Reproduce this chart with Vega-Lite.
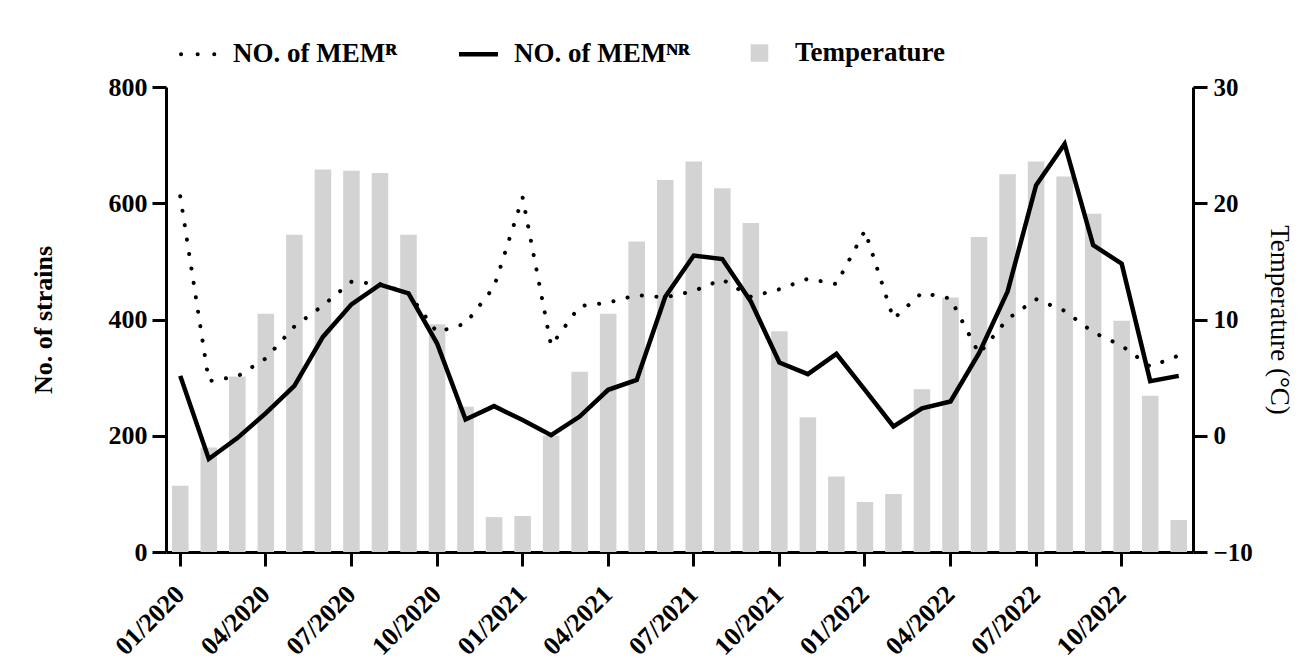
{
  "$schema": "https://vega.github.io/schema/vega-lite/v6.json",
  "width": 1027,
  "height": 465,
  "autosize": {"type": "none"},
  "padding": {"left": 166, "top": 87, "right": 115, "bottom": 116},
  "background": "white",
  "config": {
    "view": {"stroke": null},
    "font": "Liberation Serif",
    "axis": {
      "grid": false,
      "domainColor": "#000000",
      "domainWidth": 3,
      "tickColor": "#000000",
      "tickWidth": 3,
      "tickSize": 14,
      "labelColor": "#000000",
      "labelFont": "Liberation Serif",
      "labelFontSize": 25,
      "labelFontWeight": "bold",
      "titleColor": "#000000",
      "titleFont": "Liberation Serif"
    }
  },
  "data": {
    "values": [
      {"month": "01/2020", "temp": -4.3, "r": 612, "nr": 303},
      {"month": "02/2020", "temp": -1.0, "r": 294, "nr": 160},
      {"month": "03/2020", "temp": 5.1, "r": 302, "nr": 196},
      {"month": "04/2020", "temp": 10.5, "r": 333, "nr": 239},
      {"month": "05/2020", "temp": 17.3, "r": 388, "nr": 286},
      {"month": "06/2020", "temp": 22.9, "r": 424, "nr": 370},
      {"month": "07/2020", "temp": 22.8, "r": 465, "nr": 426},
      {"month": "08/2020", "temp": 22.6, "r": 461, "nr": 460},
      {"month": "09/2020", "temp": 17.3, "r": 445, "nr": 445},
      {"month": "10/2020", "temp": 9.6, "r": 378, "nr": 359},
      {"month": "11/2020", "temp": 2.5, "r": 393, "nr": 228},
      {"month": "12/2020", "temp": -7.0, "r": 456, "nr": 251},
      {"month": "01/2021", "temp": -6.9, "r": 610, "nr": 227},
      {"month": "02/2021", "temp": 0.0, "r": 355, "nr": 201},
      {"month": "03/2021", "temp": 5.5, "r": 423, "nr": 233},
      {"month": "04/2021", "temp": 10.5, "r": 429, "nr": 279},
      {"month": "05/2021", "temp": 16.7, "r": 442, "nr": 296},
      {"month": "06/2021", "temp": 22.0, "r": 438, "nr": 439},
      {"month": "07/2021", "temp": 23.6, "r": 449, "nr": 510},
      {"month": "08/2021", "temp": 21.3, "r": 469, "nr": 504},
      {"month": "09/2021", "temp": 18.3, "r": 439, "nr": 431},
      {"month": "10/2021", "temp": 9.0, "r": 452, "nr": 326},
      {"month": "11/2021", "temp": 1.6, "r": 470, "nr": 306},
      {"month": "12/2021", "temp": -3.5, "r": 461, "nr": 341},
      {"month": "01/2022", "temp": -5.7, "r": 553, "nr": 279},
      {"month": "02/2022", "temp": -5.0, "r": 401, "nr": 216},
      {"month": "03/2022", "temp": 4.0, "r": 446, "nr": 247},
      {"month": "04/2022", "temp": 11.9, "r": 436, "nr": 259},
      {"month": "05/2022", "temp": 17.1, "r": 341, "nr": 342},
      {"month": "06/2022", "temp": 22.5, "r": 401, "nr": 448},
      {"month": "07/2022", "temp": 23.6, "r": 435, "nr": 631},
      {"month": "08/2022", "temp": 22.3, "r": 415, "nr": 702},
      {"month": "09/2022", "temp": 19.1, "r": 378, "nr": 528},
      {"month": "10/2022", "temp": 9.9, "r": 355, "nr": 496},
      {"month": "11/2022", "temp": 3.45, "r": 319, "nr": 294},
      {"month": "12/2022", "temp": -7.25, "r": 338, "nr": 303}
    ]
  },
  "encoding": {
    "x": {
      "field": "month",
      "type": "ordinal",
      "sort": null,
      "scale": {"paddingInner": 0.42, "paddingOuter": 0.21},
      "axis": {
        "title": null,
        "values": ["01/2020", "04/2020", "07/2020", "10/2020", "01/2021", "04/2021", "07/2021", "10/2021", "01/2022", "04/2022", "07/2022", "10/2022"],
        "labelAngle": -45,
        "labelAlign": "right",
        "labelBaseline": "middle",
        "labelPadding": 24,
        "labelFontSize": 26
      }
    }
  },
  "layer": [
    {
      "mark": {"type": "bar"},
      "encoding": {
        "y": {
          "field": "temp",
          "type": "quantitative",
          "scale": {"domain": [-10, 30], "nice": false, "zero": false},
          "axis": {
            "orient": "right",
            "values": [-10, 0, 10, 20, 30],
            "title": "Temperature (°C)",
            "titleFontSize": 27,
            "titleFontWeight": "normal",
            "titlePadding": 12,
            "labelPadding": 6
          }
        },
        "y2": {"datum": -10},
        "color": {
          "datum": "Temperature",
          "scale": {
            "domain": ["NO. of MEMᴿ", "NO. of MEMᴺᴿ", "Temperature"],
            "range": ["#000000", "#000000", "#d3d3d3"]
          },
          "legend": {
            "orient": "none",
            "direction": "horizontal",
            "legendX": 18,
            "legendY": -48,
            "title": null,
            "padding": 0,
            "symbolSize": 1521,
            "labelOffset": 22,
            "columnPadding": 52,
            "labelFont": "Liberation Serif",
            "labelFontSize": 27,
            "labelFontWeight": "bold",
            "labelColor": "#000000",
            "labelLimit": 400,
            "encode": {
              "symbols": {
                "update": {
                  "shape": {"signal": "datum.value === 'Temperature' ? 'square' : 'stroke'"},
                  "size": {"signal": "datum.value === 'Temperature' ? 170 : 1521"},
                  "fill": {"signal": "datum.value === 'Temperature' ? '#d3d3d3' : 'transparent'"},
                  "stroke": {"signal": "datum.value === 'Temperature' ? 'transparent' : '#000000'"},
                  "strokeWidth": {"signal": "datum.value === 'NO. of MEMᴿ' ? 4 : 4.5"},
                  "strokeDash": {"signal": "datum.value === 'NO. of MEMᴿ' ? [0.1, 16.5] : [1, 0]"},
                  "strokeDashOffset": {"signal": "datum.value === 'NO. of MEMᴿ' ? -3 : 0"},
                  "strokeCap": {"signal": "datum.value === 'NO. of MEMᴿ' ? 'round' : 'butt'"},
                  "opacity": {"value": 1}
                }
              }
            }
          }
        }
      }
    },
    {
      "layer": [
        {
          "mark": {"type": "line", "strokeDash": [0.1, 14.5], "strokeCap": "round", "strokeWidth": 4},
          "encoding": {
            "y": {
              "field": "r",
              "type": "quantitative",
              "scale": {"domain": [0, 800], "nice": false},
              "axis": {
                "orient": "left",
                "values": [0, 200, 400, 600, 800],
                "title": "No. of strains",
                "titleFontSize": 26,
                "titleFontWeight": "bold",
                "titlePadding": 52,
                "labelPadding": 5,
                "labelFontSize": 26
              }
            },
            "color": {"datum": "NO. of MEMᴿ"}
          }
        },
        {
          "mark": {"type": "line", "strokeWidth": 4.5, "strokeJoin": "miter"},
          "encoding": {
            "y": {"field": "nr", "type": "quantitative"},
            "color": {"datum": "NO. of MEMᴺᴿ"}
          }
        }
      ]
    }
  ],
  "resolve": {"scale": {"y": "independent"}}
}
